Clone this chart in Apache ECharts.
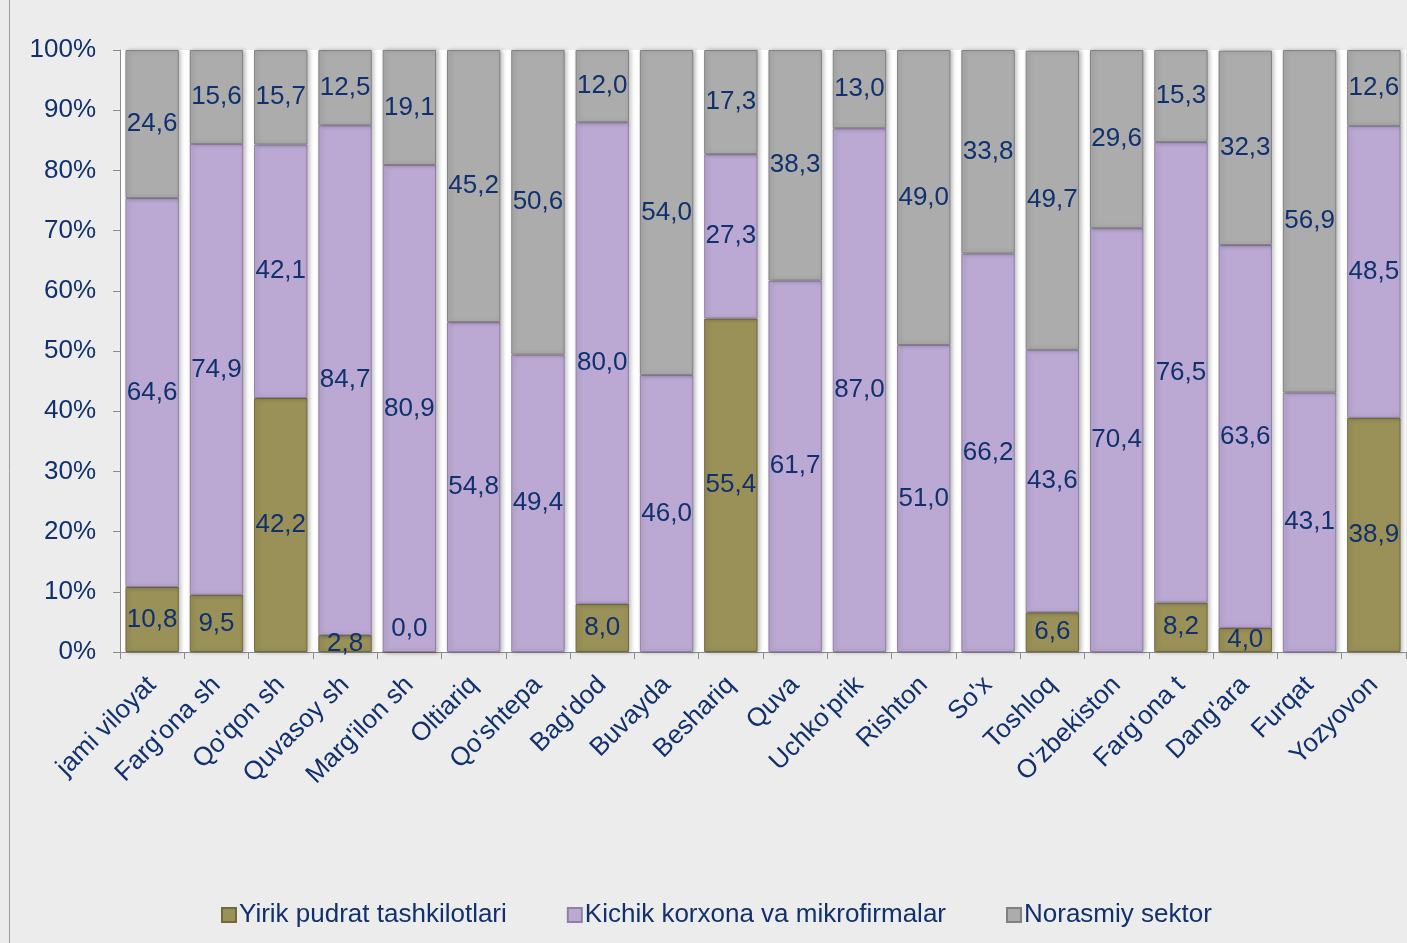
<!DOCTYPE html>
<html>
<head>
<meta charset="utf-8">
<script src="https://cdn.jsdelivr.net/npm/echarts@6/dist/echarts.min.js"></script>
<style>
  html, body { margin: 0; padding: 0; background: #ececec; }
  #chart { width: 1407px; height: 943px; }
</style>
</head>
<body>
<div id="chart"></div>
<script>
  // tumanlar / shaharlar
  var categories = ["jami viloyat", "Farg'ona sh", "Qo'qon sh", "Quvasoy sh", "Marg'ilon sh",
    "Oltiariq", "Qo'shtepa", "Bag'dod", "Buvayda", "Beshariq", "Quva", "Uchko'prik",
    "Rishton", "So'x", "Toshloq", "O'zbekiston", "Farg'ona t", "Dang'ara", "Furqat", "Yozyovon"];

  var seriesNames = ["Yirik pudrat tashkilotlari", "Kichik korxona va mikrofirmalar", "Norasmiy sektor"];

  var yirik = [10.8, 9.5, 42.2, 2.8, 0.0, null, null, 8.0, null, 55.4, null, null,
    null, null, 6.6, null, 8.2, 4.0, null, 38.9];
  var kichik = [64.6, 74.9, 42.1, 84.7, 80.9, 54.8, 49.4, 80.0, 46.0, 27.3, 61.7, 87.0,
    51.0, 66.2, 43.6, 70.4, 76.5, 63.6, 43.1, 48.5];
  var norasmiy = [24.6, 15.6, 15.7, 12.5, 19.1, 45.2, 50.6, 12.0, 54.0, 17.3, 38.3, 13.0,
    49.0, 33.8, 49.7, 29.6, 15.3, 32.3, 56.9, 12.6];

  var yTicks = [0, 10, 20, 30, 40, 50, 60, 70, 80, 90, 100];

  var colors = ["#9a9158", "#bba9d3", "#acacac"];
  var borders = ["#6f6a3c", "#8f7fa6", "#808080"];
  var labelColor = "#10306e";
  var font = "Liberation Sans, Arial, sans-serif";
  var fs = 26;

  var chart = echarts.init(document.getElementById("chart"));

  function makeSeries(name, arr, i) {
    return {
      name: name,
      type: "bar",
      stack: "total",
      barCategoryGap: "17%",
      itemStyle: {
        color: colors[i],
        borderColor: borders[i],
        borderWidth: 1,
        shadowColor: "rgba(0,0,0,0.25)",
        shadowBlur: 4,
        shadowOffsetX: 2
      },
      label: {
        show: true,
        position: "inside",
        color: labelColor,
        fontFamily: font,
        fontSize: fs,
        formatter: function (p) {
          if (p.value === null || p.value === undefined) return "";
          return p.value.toFixed(1).replace(".", ",");
        }
      },
      data: arr.map(function (v) {
        if (v === 0) {
          return { value: v, label: { offset: [0, -23] } };
        }
        return v;
      })
    };
  }

  var option = {
    backgroundColor: "#ececec",
    animation: false,
    textStyle: { fontFamily: font },
    graphic: [{
      type: "rect",
      silent: true,
      shape: { x: 9.5, y: -2, width: 1410, height: 950 },
      style: { fill: "none", stroke: "#9a9a9a", lineWidth: 1 }
    }],
    legend: {
      left: 216,
      top: 897,
      itemWidth: 14,
      itemHeight: 14,
      itemGap: 60,
      icon: "rect",
      textStyle: { color: labelColor, fontSize: fs, fontFamily: font, padding: [0, 0, 0, -2] },
      data: seriesNames
    },
    grid: {
      left: 120,
      right: 1,
      top: 50,
      bottom: 291,
      show: true,
      backgroundColor: "#ffffff",
      borderWidth: 0
    },
    xAxis: {
      type: "category",
      data: categories,
      axisLine: { lineStyle: { color: "#8c8c8c", width: 1 } },
      axisTick: { show: true, length: 7, lineStyle: { color: "#8c8c8c" } },
      axisLabel: {
        interval: 0,
        rotate: 45,
        margin: 29,
        color: labelColor,
        fontSize: fs,
        fontFamily: font
      }
    },
    yAxis: {
      type: "value",
      min: yTicks[0],
      max: yTicks[yTicks.length - 1],
      interval: 10,
      splitLine: { show: false },
      axisLine: { show: true, lineStyle: { color: "#8c8c8c", width: 1 } },
      axisTick: { show: true, length: 7, lineStyle: { color: "#8c8c8c" } },
      axisLabel: {
        margin: 24,
        color: labelColor,
        fontSize: fs,
        fontFamily: font,
        formatter: "{value}%"
      }
    },
    series: [
      makeSeries(seriesNames[0], yirik, 0),
      makeSeries(seriesNames[1], kichik, 1),
      makeSeries(seriesNames[2], norasmiy, 2)
    ]
  };

  chart.setOption(option);
</script>
</body>
</html>
